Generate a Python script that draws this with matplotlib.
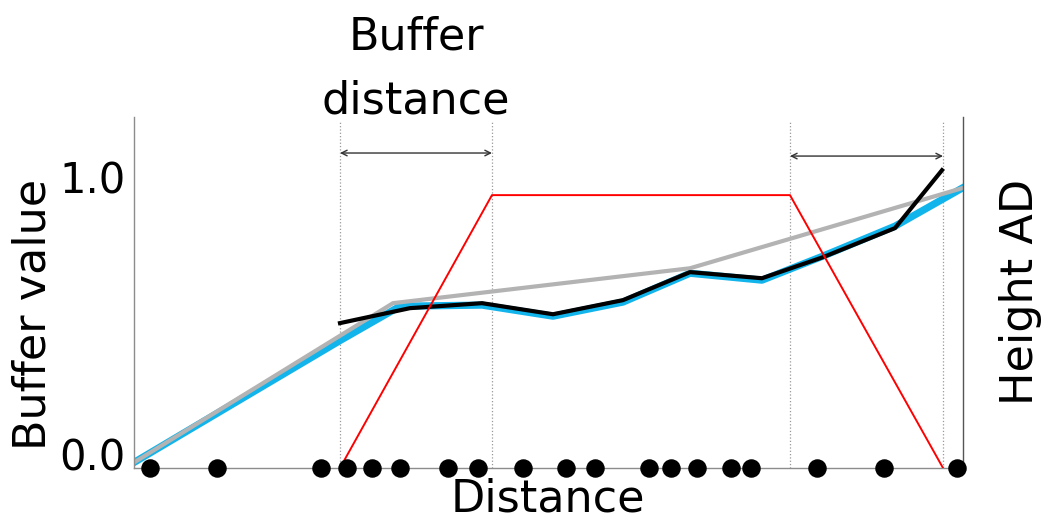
import numpy as np
import matplotlib
matplotlib.use("Agg")
import matplotlib.pyplot as plt
import matplotlib.transforms as mtransforms

# sample positions along the profile (dots on the axis)
sample_x = [0.19, 1.00, 2.26, 2.57, 2.87, 3.21, 3.79, 4.15, 4.69, 5.21,
            5.56, 6.21, 6.48, 6.79, 7.20, 7.44, 8.24, 9.05, 9.93]

# buffer window edges
buffer_edges = [2.485, 4.318, 7.913, 9.759]
buffer_top = 0.935
y_floor = -0.05

# gray reference height
gray_x = [0.0, 3.124, 6.707, 9.988]
gray_y = [-0.03, 0.545, 0.671, 0.960]

# blue buffered height
blue_x = [0.0, 2.485, 3.209, 4.198, 5.054, 5.899, 6.707, 7.575, 8.311, 9.180, 9.988]
blue_y = [-0.03, 0.410, 0.534, 0.538, 0.498, 0.549, 0.653, 0.628, 0.715, 0.823, 0.960]

# black raw height inside the buffer window
black_x = [2.485, 3.329, 4.198, 5.054, 5.899, 6.707, 7.575, 8.311, 9.180, 9.747]
black_y = [0.473, 0.527, 0.545, 0.505, 0.556, 0.657, 0.635, 0.711, 0.816, 1.025]

W, H = 1044, 521
fig = plt.figure(figsize=(W / 100, H / 100), dpi=100)
ax = fig.add_axes([134 / W, 1 - 468 / H, (963 - 134) / W, (468 - 117) / H])
ax.set_xlim(0, 10)
ax.set_ylim(y_floor, 1.217)

ax.plot(blue_x, blue_y, color="#12b4ec", lw=5.2, zorder=1)
ax.plot(gray_x, gray_y, color="#b3b3b3", lw=3, zorder=2)
ax.plot(black_x, black_y, color="black", lw=3, zorder=3)

red_x = buffer_edges
red_y = [y_floor, buffer_top, buffer_top, y_floor]
ax.plot(red_x, red_y, color="red", lw=1.4, zorder=4)

for e in buffer_edges:
    ax.axvline(e, ls=":", color="#999999", lw=0.9, ymax=0.99, zorder=0)

arrow_y = [1.087, 1.076]
for (a, b), yy in zip([(buffer_edges[0], buffer_edges[1]), (buffer_edges[2], buffer_edges[3])], arrow_y):
    ax.annotate("", xy=(a, yy), xytext=(b, yy),
                arrowprops=dict(arrowstyle="<->", color="#333333", lw=1, shrinkA=0, shrinkB=0))

ax.plot(sample_x, [y_floor] * len(sample_x), "o", color="black", ms=12.3,
        clip_on=False, zorder=5)

ax.spines["top"].set_visible(False)
ax.spines["left"].set_color("#8c8c8c")
ax.spines["bottom"].set_color("#8c8c8c")
ax.spines["right"].set_color("#555555")
for s in ["left", "bottom", "right"]:
    ax.spines[s].set_linewidth(1.0)

ax.set_xticks([])
ax.set_yticks([0, 1], ["0.0", "1.0"])
ax.tick_params(axis="y", length=0, pad=6, labelsize=30)

fig.text(33 / W, 1 - 314 / H, "Buffer value", rotation=90, ha="center", va="center", fontsize=32)
fig.text(1020 / W, 1 - 292 / H, "Height AD", rotation=90, ha="center", va="center", fontsize=32)
fig.text(548 / W, 1 / H, "Distance", ha="center", va="bottom", fontsize=32)

trans = mtransforms.blended_transform_factory(ax.transData, fig.transFigure)
mid = (buffer_edges[0] + buffer_edges[1]) / 2
ax.text(mid, 1 - 50 / H, "Buffer", transform=trans, ha="center", va="baseline", fontsize=32)
ax.text(mid, 1 - 113 / H, "distance", transform=trans, ha="center", va="baseline", fontsize=32)

fig.savefig("out.png", dpi=100)
